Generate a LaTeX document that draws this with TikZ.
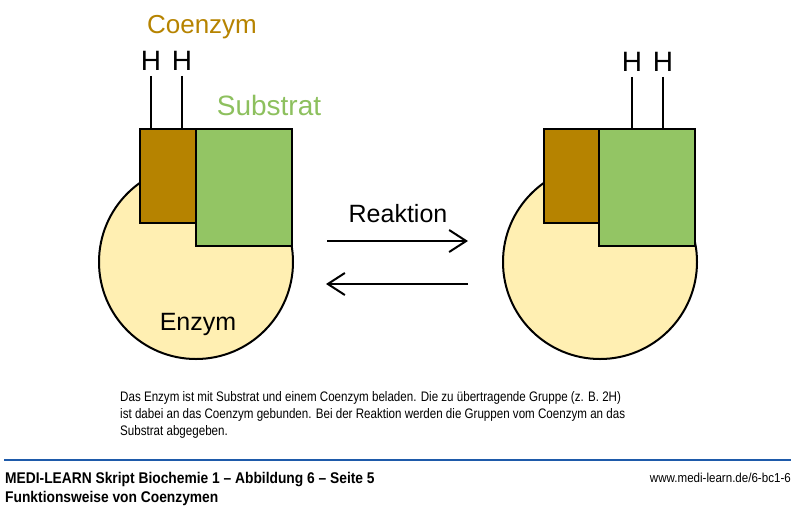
\documentclass[tikz,border=0pt]{standalone}
\usepackage{fontspec}
\setmainfont{Liberation Sans}
\newfontfamily\condfont{Liberation Sans}[FakeStretch=0.84]
\newfontfamily\footfont{Liberation Sans}[FakeStretch=0.89]
\usetikzlibrary{arrows.meta}
\definecolor{coenz}{RGB}{182,131,0}
\definecolor{subst}{RGB}{147,197,100}
\definecolor{substtext}{RGB}{141,192,94}
\definecolor{enz}{RGB}{255,239,178}
\definecolor{footblue}{RGB}{30,90,170}
\tikzset{
  enzymbox/.style={circle,draw=black,line width=2pt,fill=enz,minimum size=194pt,inner sep=0pt},
  coenzbox/.style={rectangle,draw=black,line width=2pt,fill=coenz,minimum width=56pt,minimum height=94pt,inner sep=0pt},
  substbox/.style={rectangle,draw=black,line width=2pt,fill=subst,minimum width=96pt,minimum height=117pt,inner sep=0pt},
  hlabel/.style={font=\fontsize{28}{30}\selectfont,inner sep=0pt},
  bond/.style={line width=2pt},
  reakarrow/.style={line width=2pt,-{Straight Barb[length=17pt,width=22pt,line width=2pt]}},
  caption/.style={font=\condfont\fontsize{13.8}{17}\selectfont,inner sep=0pt,anchor=base west},
}
\begin{document}
\begin{tikzpicture}[x=1pt,y=-1pt]
\useasboundingbox (0,0) rectangle (800,512);
% left complex
\node[enzymbox] (enzL) at (196,262) {};
\node[coenzbox] (coL) at (168,176) {};
\node[substbox] (suL) at (244,187.5) {};
\node[hlabel] (hL1) at (151,61) {H};
\node[hlabel] (hL2) at (182,61) {H};
\draw[bond] (hL1.south) ++(0,5) -- (coL.north -| hL1);
\draw[bond] (hL2.south) ++(0,5) -- (coL.north -| hL2);
\node[font=\fontsize{26}{28}\selectfont,text=coenz,inner sep=0pt] (lcoenz) at (202,27) {Coenzym};
\node[font=\fontsize{28}{30}\selectfont,text=substtext,inner sep=0pt] (lsubst) at (269,105) {Substrat};
\node[font=\fontsize{25}{27}\selectfont,inner sep=0pt] (lenz) at (198,324) {Enzym};
% arrows
\coordinate (a1s) at (327,241);
\coordinate (a1e) at (468,241);
\coordinate (a2s) at (468,284);
\coordinate (a2e) at (326,284);
\draw[reakarrow] (a1s) -- (a1e);
\draw[reakarrow] (a2s) -- (a2e);
\node[font=\fontsize{25}{27}\selectfont,inner sep=0pt] (lreak) at (398,214) {Reaktion};
% right complex
\node[enzymbox] (enzR) at (600,262) {};
\node[coenzbox] (coR) at (571.5,176) {};
\node[substbox] (suR) at (647,187.5) {};
\node[hlabel] (hR1) at (632,62) {H};
\node[hlabel] (hR2) at (663,62) {H};
\draw[bond] (hR1.south) ++(0,5) -- (suR.north -| hR1);
\draw[bond] (hR2.south) ++(0,5) -- (suR.north -| hR2);
% caption
\node[caption] (c1) at (120,401) {Das Enzym ist mit Substrat und einem Coenzym beladen. Die zu übertragende Gruppe (z. B. 2H)};
\node[caption] (c2) at (120,418) {ist dabei an das Coenzym gebunden. Bei der Reaktion werden die Gruppen vom Coenzym an das};
\node[caption] (c3) at (120,435) {Substrat abgegeben.};
% footer
\coordinate (fl) at (4,460);
\coordinate (fr) at (791,460);
\draw[footblue,line width=1.5pt] (fl) -- (fr);
\node[font=\footfont\bfseries\fontsize{15.5}{17}\selectfont,inner sep=0pt,anchor=base west] (f1) at (5,483) {MEDI-LEARN Skript Biochemie 1 – Abbildung 6 – Seite 5};
\node[font=\footfont\bfseries\fontsize{15.5}{17}\selectfont,inner sep=0pt,anchor=base west] (f2) at (5,502) {Funktionsweise von Coenzymen};
\node[font=\footfont\fontsize{13}{15}\selectfont,inner sep=0pt,anchor=base east] (f3) at (791,482) {www.medi-learn.de/6-bc1-6};
\end{tikzpicture}
\end{document}
